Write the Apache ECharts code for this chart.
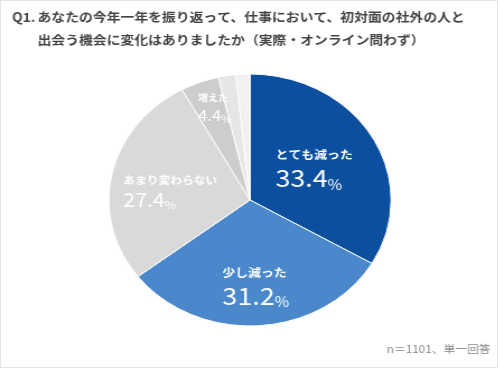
<!DOCTYPE html>
<html>
<head>
<meta charset="utf-8">
<script src="https://cdn.jsdelivr.net/npm/echarts@6/dist/echarts.min.js"></script>
<style>
html,body{margin:0;padding:0;background:#fff;}
#frame{position:absolute;left:0;top:0;width:498px;height:368px;box-sizing:border-box;border:1px solid #e4e4e4;overflow:hidden;}
#c{position:absolute;left:-1px;top:-1px;width:446.4px;height:368px;transform:scaleX(1.12);transform-origin:0 0;}
</style>
</head>
<body>
<div id="frame"><div id="c"></div></div>
<script>
const titleLine1 = 'あなたの今年一年を振り返って、仕事において、初対面の社外の人と';
const titleLine2 = '出会う機会に変化はありましたか（実際・オンライン問わず）';
const footnote = 'n＝1101、単一回答';
const categories = ['とても減った', '少し減った', 'あまり変わらない', '増えた', 'その他', '無回答'];
const values = [33.4, 31.2, 27.4, 4.4, 2.0, 1.6];
const colors = ['#0c4f9e', '#4a88cb', '#d9d9d9', '#cdcdcd', '#e6e6e6', '#f1f1f1'];

const labelStyles = [
  {show: true, nameSize: 11.5, valSize: 24, pctSize: 14},
  {show: true, nameSize: 11.5, valSize: 24, pctSize: 14},
  {show: true, nameSize: 10.5, valSize: 19, pctSize: 11},
  {show: true, nameSize: 9, valSize: 15, pctSize: 10},
  {show: false},
  {show: false}
];
const labelShift = [[0, 1], [1, 20], [-6.5, 4], [-8, -32], [0, 0], [0, 0]];

const font = '"Noto Sans CJK JP", "Noto Sans", sans-serif';

const data = categories.map((name, i) => {
  const s = labelStyles[i];
  return {
    name: name,
    value: values[i],
    itemStyle: {color: colors[i]},
    label: s.show ? {
      show: true,
      position: 'inside',
      formatter: '{n|{b}}\n{v|{c}}{p|%}',
      rich: {
        n: {align: 'left', fontSize: s.nameSize, color: '#fff', fontFamily: font, fontWeight: 'bold', lineHeight: s.nameSize + 9},
        v: {align: 'left', fontSize: s.valSize, color: '#fff', fontFamily: font, lineHeight: s.valSize + 2},
        p: {align: 'left', fontSize: s.pctSize, color: '#fff', fontFamily: font, lineHeight: s.valSize + 2, verticalAlign: 'bottom'}
      }
    } : {show: false}
  };
});

const chart = echarts.init(document.getElementById('c'), null, {renderer: 'canvas'});
chart.setOption({
  animation: false,
  backgroundColor: '#fff',
  title: [
    {text: 'Q1.', left: 10.7, top: 6, padding: 0,
     textStyle: {fontSize: 12.35, fontWeight: 'bold', color: '#444', fontFamily: font, lineHeight: 23}},
    {text: titleLine1 + '\n' + titleLine2, left: 33.5, top: 6, padding: 0,
     textStyle: {fontSize: 12.35, fontWeight: 'bold', color: '#444', fontFamily: font, lineHeight: 23}},
    {text: footnote, right: 8, bottom: 14, padding: 0,
     textStyle: {fontSize: 10.5, fontWeight: 'normal', color: '#8a8a8a', fontFamily: font}}
  ],
  series: [{
    type: 'pie',
    center: [223.2, 200],
    radius: [0, 126],
    startAngle: 90,
    clockwise: true,
    data: data,
    itemStyle: {borderColor: '#fff', borderWidth: 1},
    labelLine: {show: false},
    emphasis: {disabled: true},
    labelLayout: function (params) {
      const sh = labelShift[params.dataIndex];
      return {dx: sh[0], dy: sh[1]};
    }
  }]
});
</script>
</body>
</html>
